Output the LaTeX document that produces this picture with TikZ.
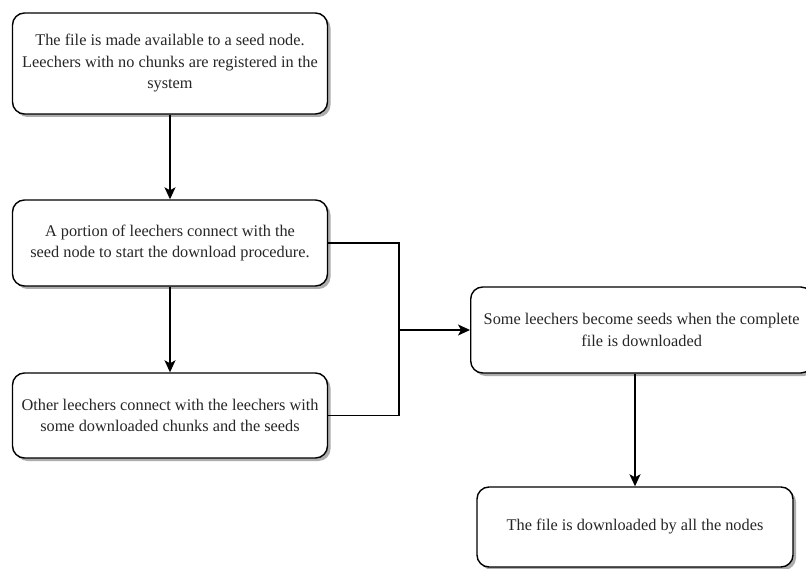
\documentclass[tikz,border=0pt]{standalone}
\usepackage{fontspec}
\setmainfont{Liberation Serif}
\usetikzlibrary{arrows.meta,shadows}
\begin{document}
\begin{tikzpicture}[x=1pt,y=-1pt,
  box/.style={draw=black, line width=1.4pt, fill=white, rounded corners=12pt,
    align=center, inner sep=0pt, font=\fontsize{16.3}{21.5}\selectfont, text=black!85,
    drop shadow={shadow xshift=3pt, shadow yshift=-3pt, fill=black!32, opacity=1}},
  conn/.style={draw=black, line width=1.4pt},
  arr/.style={conn, -{Stealth[length=12pt,width=11pt,inset=3pt]}}]
\fill[white] (0,0) rectangle (806,569);
\useasboundingbox (0,0) rectangle (806,569);
\node[box, minimum width=315pt, minimum height=101pt] (b1) at (170,63.5)
  {The file is made available to a seed node.\\Leechers with no chunks are registered in the\\system};
\node[box, minimum width=315pt, minimum height=86pt] (b2) at (170,243)
  {A portion of leechers connect with the\\seed node to start the download procedure.};
\node[box, minimum width=315pt, minimum height=85pt] (b3) at (170,415.5)
  {Other leechers connect with the leechers with\\some downloaded chunks and the seeds};
\node[box, minimum width=342pt, minimum height=86pt, anchor=west] (b4) at (470,330)
  {Some leechers become seeds when the complete\\file is downloaded};
\node[box, minimum width=316pt, minimum height=80pt] (b5) at (635,527)
  {The file is downloaded by all the nodes};
\coordinate (j) at (399,330);
\draw[arr] (b1) -- (b2);
\draw[arr] (b2) -- (b3);
\draw[conn] (b2.east) -| (j);
\draw[conn] (b3.east) -| (j);
\draw[arr] (j) -- (b4.west);
\draw[arr] (b5.north |- b4.south) -- (b5.north);
\end{tikzpicture}
\end{document}
